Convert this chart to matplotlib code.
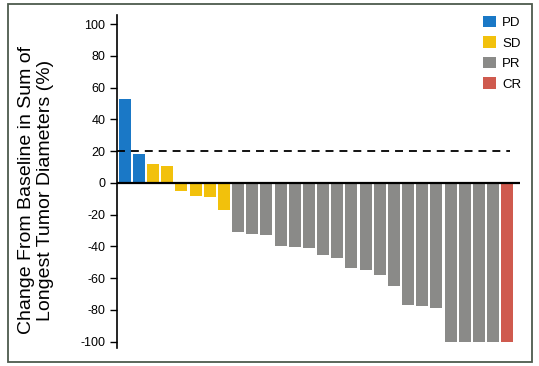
import matplotlib
matplotlib.use("Agg")
import matplotlib.pyplot as plt
from matplotlib.patches import Patch, Rectangle

plt.rcParams['font.family'] = ['Liberation Sans', 'DejaVu Sans']

# Data
pd_values = [53, 18]
sd_values = [11.8, 10.9, -5, -8.2, -8.8, -17.2]
pr_values = [-31, -31.9, -33, -39.9, -40.3, -41, -45.6, -47.6, -53.6, -55,
             -58, -65, -76.9, -77.7, -79.1, -100, -100, -100, -100]
cr_values = [-100]
categories = ['PD', 'SD', 'PR', 'CR']
colors = {'PD': '#1a78c6', 'SD': '#f2c10c', 'PR': '#8a8a88', 'CR': '#cf5a4e'}
yticks = [100, 80, 60, 40, 20, 0, -20, -40, -60, -80, -100]
threshold = 20
ylabel = 'Change From Baseline in Sum of\nLongest Tumor Diameters (%)'

W, H = 539, 366
fig = plt.figure(figsize=(W / 100, H / 100), dpi=100)
ax = fig.add_axes([117 / W, 1 - 348 / H, (520 - 117) / W, (348 - 15) / H])

groups = [('PD', pd_values), ('SD', sd_values), ('PR', pr_values), ('CR', cr_values)]
i = 0
for name, vals in groups:
    xs = list(range(i, i + len(vals)))
    ax.bar(xs, vals, width=0.85, color=colors[name], edgecolor='none', zorder=2)
    i += len(vals)

ax.set_xlim(-0.55, i - 0.1)
ax.set_ylim(-104, 105.7)
ax.axhline(0, color='black', lw=1.6, zorder=3)
ax.axhline(threshold, xmin=0, xmax=(510 - 117) / (520 - 117), color='black',
           lw=1.3, ls=(0, (4.4, 3.3)), zorder=4)

for s in ['top', 'right', 'bottom']:
    ax.spines[s].set_visible(False)
ax.spines['left'].set_linewidth(1.2)
ax.set_xticks([])
ax.set_yticks(yticks)
ax.set_yticklabels([str(t) for t in yticks])
ax.tick_params(axis='y', direction='out', length=5, width=1, pad=3.5,
               labelsize=9, colors='black')

fig.text(36 / W, 1 - 190 / H, ylabel, rotation=90, ha='center', va='center',
         multialignment='center', fontsize=14, linespacing=1.15)

handles = [Patch(facecolor=colors[c], edgecolor='none') for c in categories]
fig.legend(handles, categories, loc='upper left',
           bbox_to_anchor=(483 / W, 1 - 16 / H), bbox_transform=fig.transFigure,
           frameon=False, fontsize=9.5, handlelength=0.95, handleheight=0.95,
           handletextpad=0.5, labelspacing=0.55, borderpad=0, borderaxespad=0)

fig.patches.append(Rectangle((8 / W, 1 - 362 / H), (532 - 8) / W, (362 - 4) / H,
                             transform=fig.transFigure, fill=False,
                             edgecolor='#4d5a4d', lw=1.3))

fig.savefig('out.png', dpi=100)
